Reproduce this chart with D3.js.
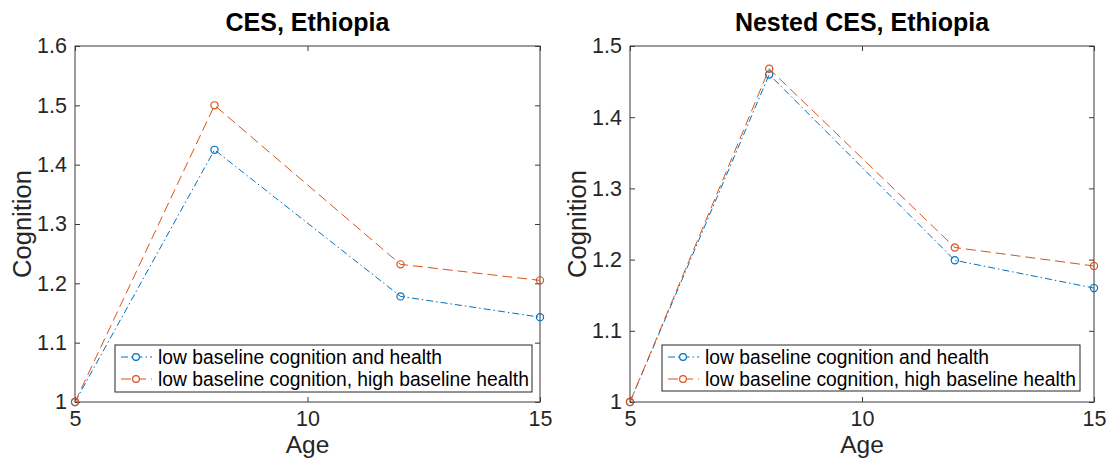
<!DOCTYPE html>
<html><head><meta charset="utf-8">
<script src="https://cdn.jsdelivr.net/npm/d3@7"></script>
<style>
body{margin:0;background:#fff;}
text{font-family:"Liberation Sans",Arial,Helvetica,sans-serif;fill:#262626;}
</style></head>
<body><svg id="chart" width="1114" height="462"></svg>
<script>
const ages = [5, 8, 12, 15];
const cesLow = [1, 1.425, 1.178, 1.143];
const cesHigh = [1, 1.5, 1.232, 1.205];
const nestedLow = [1, 1.46, 1.199, 1.16];
const nestedHigh = [1, 1.468, 1.217, 1.191];
const seriesNames = ["low baseline cognition and health", "low baseline cognition, high baseline health"];
const xTicks = [5, 10, 15];
const yTicksCES = [1, 1.1, 1.2, 1.3, 1.4, 1.5, 1.6];
const yTicksNested = [1, 1.1, 1.2, 1.3, 1.4, 1.5];

const svg = d3.select("#chart");
const colors = ["#0072BD", "#D95319"];
const dashes = ["7,3,1.5,3", "10,5"];

function panel(opts) {
  const {left, right, top, bottom, yMax, yTicks, title, low, high, legend} = opts;
  const g = svg.append("g");
  const x = d3.scaleLinear().domain([5, 15]).range([left, right]);
  const y = d3.scaleLinear().domain([1, yMax]).range([bottom, top]);

  g.append("rect").attr("x", left).attr("y", top).attr("width", right - left).attr("height", bottom - top)
    .attr("fill", "none").attr("stroke", "#3a3a3a").attr("stroke-width", 1);

  const tl = 5;
  const xb = d3.axisBottom(x).tickValues(xTicks).tickSize(-tl).tickPadding(9).tickFormat(d3.format("d"));
  const gx = g.append("g").attr("transform", `translate(0,${bottom})`).call(xb);
  const xt = d3.axisTop(x).tickValues(xTicks).tickSize(-tl).tickFormat("");
  const gxt = g.append("g").attr("transform", `translate(0,${top})`).call(xt);
  const yl = d3.axisLeft(y).tickValues(yTicks).tickSize(-tl).tickPadding(8).tickFormat(d => d === 1 ? "1" : d3.format(".1f")(d));
  const gy = g.append("g").attr("transform", `translate(${left},0)`).call(yl);
  const yr = d3.axisRight(y).tickValues(yTicks).tickSize(-tl).tickFormat("");
  const gyr = g.append("g").attr("transform", `translate(${right},0)`).call(yr);
  [gx, gxt, gy, gyr].forEach(a => {
    a.select(".domain").remove();
    a.selectAll(".tick line").attr("stroke", "#3a3a3a");
    a.selectAll(".tick text").attr("font-size", 21.5).style("fill", "#262626");
  });
  gx.selectAll(".tick text").attr("dy", "0.71em");

  g.append("text").attr("x", (left + right) / 2).attr("y", 31).attr("text-anchor", "middle")
    .attr("font-size", 25).attr("font-weight", "bold").style("fill", "#000").text(title);
  g.append("text").attr("x", (left + right) / 2).attr("y", 453).attr("text-anchor", "middle")
    .attr("font-size", 24.5).text("Age");
  g.append("text").attr("transform", `translate(${left - 44},${(top + bottom) / 2}) rotate(-90)`)
    .attr("text-anchor", "middle").attr("font-size", 25.5).text("Cognition");

  const line = d3.line().x((d, i) => x(ages[i])).y(d => y(d));
  [low, high].forEach((vals, k) => {
    g.append("path").datum(vals).attr("d", line).attr("fill", "none")
      .attr("stroke", colors[k]).attr("stroke-width", 1).attr("stroke-dasharray", dashes[k]);
    g.selectAll(null).data(vals).enter().append("circle")
      .attr("cx", (d, i) => x(ages[i])).attr("cy", d => y(d)).attr("r", 3.6)
      .attr("fill", "none").attr("stroke", colors[k]).attr("stroke-width", 1.2);
  });

  const lg = g.append("g");
  lg.append("rect").attr("x", legend.x).attr("y", legend.y).attr("width", legend.w).attr("height", legend.h)
    .attr("fill", "#fff").attr("stroke", "#262626").attr("stroke-width", 1);
  seriesNames.forEach((name, k) => {
    const cy = legend.y + 12 + k * 22;
    lg.append("line").attr("x1", legend.x + 6).attr("x2", legend.x + 37).attr("y1", cy).attr("y2", cy)
      .attr("stroke", colors[k]).attr("stroke-width", 1).attr("stroke-dasharray", dashes[k]);
    lg.append("circle").attr("cx", legend.x + 21).attr("cy", cy).attr("r", 3.4)
      .attr("fill", "#fff").attr("stroke", colors[k]).attr("stroke-width", 1.2);
    lg.append("text").attr("x", legend.x + 43).attr("y", cy).attr("dy", "0.35em")
      .attr("font-size", 19.3).style("fill", "#000").text(name);
  });
}

panel({left: 75, right: 540, top: 46, bottom: 402, yMax: 1.6, yTicks: yTicksCES, title: "CES, Ethiopia",
  low: cesLow, high: cesHigh, legend: {x: 115, y: 345, w: 417, h: 47}});
panel({left: 630, right: 1094, top: 46, bottom: 402, yMax: 1.5, yTicks: yTicksNested, title: "Nested CES, Ethiopia",
  low: nestedLow, high: nestedHigh, legend: {x: 662, y: 345, w: 418, h: 46}});
</script></body></html>
